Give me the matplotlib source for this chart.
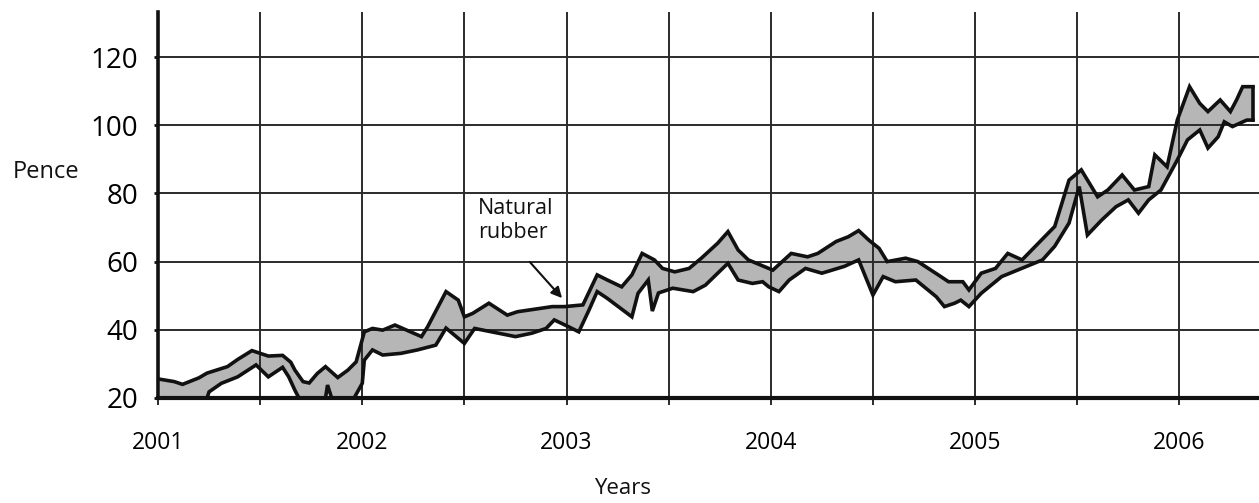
import numpy as np
import matplotlib
matplotlib.use("Agg")
import matplotlib.pyplot as plt

plt.rcParams['font.family'] = ['Open Sans', 'DejaVu Sans']

# ---- data ----
upper_years = [2001.01, 2001.08, 2001.12, 2001.20, 2001.24, 2001.34, 2001.39, 2001.46,
               2001.54, 2001.61, 2001.65, 2001.67, 2001.71, 2001.74, 2001.78, 2001.82,
               2001.88, 2001.93, 2001.97, 2002.01, 2002.05, 2002.10, 2002.16, 2002.29,
               2002.32, 2002.41, 2002.47, 2002.50, 2002.54, 2002.62, 2002.71, 2002.76,
               2002.93, 2002.99, 2003.08, 2003.15, 2003.20, 2003.27, 2003.32, 2003.37,
               2003.43, 2003.47, 2003.53, 2003.60, 2003.66, 2003.74, 2003.79, 2003.84,
               2003.89, 2004.01, 2004.10, 2004.18, 2004.23, 2004.32, 2004.38, 2004.43,
               2004.48, 2004.53, 2004.57, 2004.66, 2004.72, 2004.82, 2004.87, 2004.94,
               2004.97, 2005.03, 2005.10, 2005.16, 2005.23, 2005.31, 2005.39, 2005.46,
               2005.52, 2005.60, 2005.65, 2005.72, 2005.78, 2005.85, 2005.88, 2005.94,
               2005.99, 2006.02, 2006.05, 2006.10, 2006.14, 2006.20, 2006.25, 2006.28,
               2006.31, 2006.36]
upper_pence = [25.5, 24.8, 24.0, 25.9, 27.3, 29.2, 31.3, 33.9,
               32.3, 32.5, 30.5, 28.2, 24.8, 24.4, 27.2, 29.2,
               26.0, 28.2, 30.6, 39.4, 40.4, 39.9, 41.4, 38.0,
               40.9, 51.2, 48.7, 43.8, 44.8, 47.8, 44.3, 45.3,
               46.8, 46.8, 47.3, 56.1, 54.6, 52.6, 56.1, 62.4,
               60.5, 58.0, 57.0, 58.0, 61.0, 65.4, 68.8, 63.4,
               60.5, 57.5, 62.4, 61.4, 62.4, 65.9, 67.3, 69.1,
               66.3, 63.9, 60.0, 61.0, 60.0, 56.1, 54.1, 54.1,
               51.7, 56.6, 58.0, 62.4, 60.5, 65.4, 70.3, 83.9,
               86.9, 79.0, 81.0, 85.4, 81.0, 82.0, 91.3, 87.8,
               101.5, 106.4, 111.3, 106.4, 104.0, 107.4, 104.0, 107.4,
               111.3, 111.3]

lower_years = [2001.01, 2001.24, 2001.25, 2001.31, 2001.39, 2001.48, 2001.54, 2001.61,
               2001.64, 2001.67, 2001.69, 2001.82, 2001.83, 2001.85, 2001.96, 2002.00,
               2002.01, 2002.05, 2002.10, 2002.19, 2002.27, 2002.36, 2002.41, 2002.50,
               2002.55, 2002.75, 2002.83, 2002.90, 2002.94, 2003.01, 2003.06, 2003.11,
               2003.15, 2003.20, 2003.32, 2003.35, 2003.40, 2003.42, 2003.45, 2003.52,
               2003.62, 2003.68, 2003.74, 2003.79, 2003.84, 2003.91, 2003.96, 2003.99,
               2004.04, 2004.09, 2004.17, 2004.25, 2004.36, 2004.43, 2004.50, 2004.55,
               2004.61, 2004.71, 2004.81, 2004.85, 2004.90, 2004.93, 2004.97, 2005.03,
               2005.13, 2005.33, 2005.39, 2005.46, 2005.51, 2005.55, 2005.62, 2005.69,
               2005.75, 2005.80, 2005.85, 2005.91, 2005.99, 2006.04, 2006.10, 2006.14,
               2006.19, 2006.22, 2006.26, 2006.33, 2006.36]
lower_pence = [20.0, 20.0, 21.8, 24.3, 26.2, 29.7, 26.2, 29.0,
               26.2, 22.3, 20.0, 20.0, 23.8, 20.0, 20.0, 24.3,
               31.1, 34.1, 32.6, 33.1, 34.1, 35.5, 40.5, 36.0,
               40.4, 38.0, 39.0, 40.4, 42.9, 40.9, 39.4, 45.8,
               51.2, 49.2, 43.8, 50.7, 54.6, 45.5, 50.8, 52.2,
               51.2, 53.1, 56.6, 59.5, 54.6, 53.6, 54.1, 52.6,
               51.2, 54.6, 58.0, 56.6, 58.6, 60.5, 50.2, 55.6,
               54.1, 54.6, 49.7, 46.8, 47.8, 48.7, 46.8, 50.7,
               55.6, 60.5, 64.5, 71.3, 82.0, 67.8, 72.2, 76.1,
               78.1, 74.2, 78.1, 81.0, 89.8, 95.7, 98.6, 93.3,
               96.6, 101.0, 99.6, 101.5, 101.5]

year_ticks = [2001, 2002, 2003, 2004, 2005, 2006]
half_year_ticks = [2001.5, 2002.5, 2003.5, 2004.5, 2005.5]
pence_ticks = [20, 40, 60, 80, 100, 120]

label_text = "Natural\nrubber"
label_xy = (2002.567, 78.6)
arrow_tip = (2002.978, 49.3)
arrow_tail = (2002.82, 59.9)

# ---- figure ----
W, H = 1259, 503
fig = plt.figure(figsize=(W / 100, H / 100), dpi=100)
ax = fig.add_axes([158 / W, 1 - 398 / H, 1 - 158 / W, (398 - 12) / H])

ax.set_xlim(2001, 2006.39)
ax.set_ylim(20, 133.2)

ux = np.array(upper_years); uy = np.array(upper_pence)
lx = np.array(lower_years); ly = np.array(lower_pence)

ax.fill(np.concatenate([ux, lx[::-1]]), np.concatenate([uy, ly[::-1]]),
        facecolor='#b6b6b6', edgecolor='none', zorder=1)
ax.plot(ux, uy, color='#111111', lw=2.6, zorder=3, solid_joinstyle='miter')
ax.plot(lx, ly, color='#111111', lw=2.6, zorder=3, solid_joinstyle='miter')
ax.plot([ux[-1], lx[-1]], [uy[-1], ly[-1]], color='#111111', lw=2.6, zorder=3)

# grid
ax.set_xticks(year_ticks)
ax.set_xticks(half_year_ticks, minor=True)
ax.set_yticks(pence_ticks)
ax.set_xticklabels([str(y) for y in year_ticks], fontsize=16.5)
ax.set_yticklabels([str(p) for p in pence_ticks], fontsize=20)
ax.set_axisbelow('line')
ax.grid(True, which='both', axis='x', color='#2b2b2b', lw=1.4)
ax.grid(True, which='major', axis='y', color='#2b2b2b', lw=1.4)

ax.tick_params(axis='x', which='both', direction='out', length=5, width=1.4,
               color='#2b2b2b', pad=19)
ax.tick_params(axis='y', which='major', direction='out', length=3, width=2,
               color='#111111', pad=11)

for s in ['top', 'right']:
    ax.spines[s].set_visible(False)
ax.spines['left'].set_linewidth(2.6)
ax.spines['left'].set_color('#111111')
ax.spines['bottom'].set_linewidth(3.0)
ax.spines['bottom'].set_color('#111111')
ax.spines['left'].set_zorder(4)
ax.spines['bottom'].set_zorder(4)

ax.text(label_xy[0], label_xy[1], label_text, fontsize=15.5, ha='left', va='top',
        color='#111111', zorder=5)
ax.annotate('', xy=arrow_tip, xytext=arrow_tail,
            arrowprops=dict(arrowstyle='-|>', color='#111111', lw=1.5,
                            mutation_scale=16, shrinkA=0, shrinkB=0), zorder=5)

fig.text(13 / W, 1 - 172 / H, 'Pence', fontsize=17, ha='left', va='center',
         color='#111111')
fig.text(623 / W, 1 - 489 / H, 'Years', fontsize=16, ha='center', va='center',
         color='#111111')

fig.savefig('out.png', dpi=100)
